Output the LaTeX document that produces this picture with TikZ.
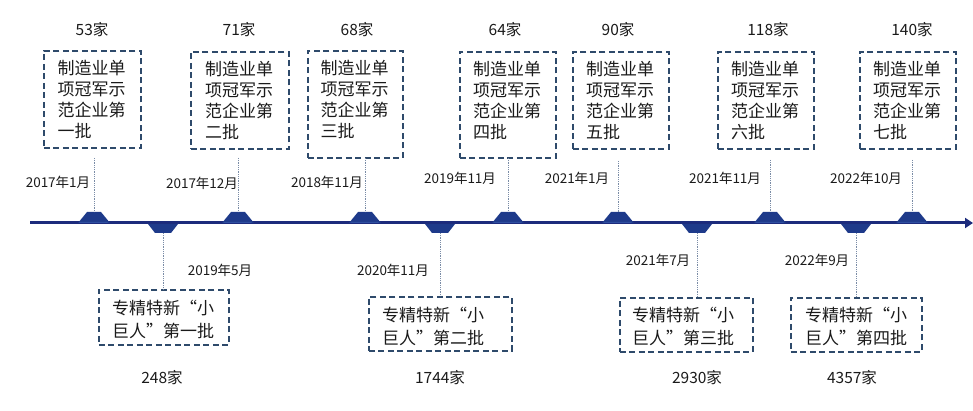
\documentclass[tikz,border=0pt]{standalone}
\usepackage{fontspec}
\setmainfont{Noto Sans CJK SC}
\usetikzlibrary{arrows.meta,calc}
\definecolor{navy}{HTML}{1C2B7C}
\definecolor{mk}{HTML}{1E3A8A}
\definecolor{mkl}{HTML}{2F4FA0}
\definecolor{bx}{HTML}{2E4A6B}
\definecolor{dl}{HTML}{7A8CA6}
\definecolor{tx}{HTML}{1A1A1A}
\begin{document}
\begin{tikzpicture}[x=1pt,y=-1pt,
  dbox/.style={draw=bx, line width=1.6pt, dash pattern=on 6pt off 3.5pt, inner sep=0pt, anchor=north west},
  utext/.style={text=tx, font=\fontsize{17}{21}\selectfont, align=left, text width=68pt, inner sep=0pt, anchor=north},
  ltext/.style={text=tx, font=\fontsize{17}{23}\selectfont, align=left, inner sep=0pt, anchor=north west},
  datel/.style={text=tx, font=\fontsize{13.5}{15}\selectfont, inner sep=0pt},
  numl/.style={text=tx, font=\fontsize{15.5}{17}\selectfont, inner sep=0pt},
  dotl/.style={draw=dl, line width=0.6pt, dash pattern=on 0.8pt off 1pt},
  upmark/.pic={\fill[mk] (-16,11) -- (-7,0) -- (7,0) -- (16,11) -- cycle;
               \fill[mkl] (-14,10) -- (13,10) -- (14,11) -- (-15,11) -- cycle;},
  lowmark/.pic={\fill[mk] (-15,0) -- (-8,9) -- (8,9) -- (15,0) -- cycle;}
]
\useasboundingbox (0,0) rectangle (973,411);

% timeline
\coordinate (tl0) at (30,223);
\coordinate (tl1) at (973,223);
\draw[navy, line width=3pt, -{Triangle[length=8pt,width=10pt]}] (tl0) -- (tl1);

% marker coordinates
\coordinate (m1) at (94,212);
\coordinate (m2) at (238,212);
\coordinate (m3) at (365,212);
\coordinate (m4) at (508,212);
\coordinate (m5) at (618,212);
\coordinate (m6) at (770,212);
\coordinate (m7) at (912,212);
\coordinate (l1) at (163,224);
\coordinate (l2) at (440,224);
\coordinate (l3) at (697,224);
\coordinate (l4) at (856,224);

\foreach \m in {m1,m2,m3,m4,m5,m6,m7} {\pic at (\m) {upmark};}
\foreach \m in {l1,l2,l3,l4} {\pic at (\m) {lowmark};}

% upper boxes
\node[dbox, minimum width=97pt, minimum height=97pt] (ub1) at (43,50) {};
\node[dbox, minimum width=98pt, minimum height=97pt] (ub2) at (190,51) {};
\node[dbox, minimum width=95pt, minimum height=107pt] (ub3) at (307,50) {};
\node[dbox, minimum width=96pt, minimum height=106pt] (ub4) at (459,51) {};
\node[dbox, minimum width=96pt, minimum height=97pt] (ub5) at (572,51) {};
\node[dbox, minimum width=96pt, minimum height=97pt] (ub6) at (717,51) {};
\node[dbox, minimum width=96pt, minimum height=97pt] (ub7) at (859,51) {};

\node[utext] (ut1) at (91.5,60.5) {制造业单\\项冠军示\\范企业第\\一批};
\node[utext] (ut2) at (239,61) {制造业单\\项冠军示\\范企业第\\二批};
\node[utext] (ut3) at (354.5,60.5) {制造业单\\项冠军示\\范企业第\\三批};
\node[utext] (ut4) at (507,61) {制造业单\\项冠军示\\范企业第\\四批};
\node[utext] (ut5) at (620,61) {制造业单\\项冠军示\\范企业第\\五批};
\node[utext] (ut6) at (765,61) {制造业单\\项冠军示\\范企业第\\六批};
\node[utext] (ut7) at (907,61) {制造业单\\项冠军示\\范企业第\\七批};

% upper counts
\node[numl] (n1) at (92,30) {53家};
\node[numl] (n2) at (239,30) {71家};
\node[numl] (n3) at (357,30) {68家};
\node[numl] (n4) at (505,30) {64家};
\node[numl] (n5) at (618,30) {90家};
\node[numl] (n6) at (768,30) {118家};
\node[numl] (n7) at (912,30) {140家};

% upper dates
\node[datel] (d1) at (58,182) {2017年1月};
\node[datel] (d2) at (202,183) {2017年12月};
\node[datel] (d3) at (327,182) {2018年11月};
\node[datel] (d4) at (460,178) {2019年11月};
\node[datel] (d5) at (577,178) {2021年1月};
\node[datel] (d6) at (725,178) {2021年11月};
\node[datel] (d7) at (866,178) {2022年10月};

% upper dotted connectors
\coordinate (c1) at (94,158);
\coordinate (c2) at (238,158);
\coordinate (c3) at (365,158);
\coordinate (c4) at (508,158);
\coordinate (c5) at (618,161);
\coordinate (c6) at (770,160);
\coordinate (c7) at (912,160);
\foreach \i in {1,...,7} {\draw[dotl] (c\i) -- (m\i);}

% lower boxes
\node[dbox, minimum width=130pt, minimum height=55pt] (lb1) at (98,289) {};
\node[dbox, minimum width=143pt, minimum height=54pt] (lb2) at (368,296) {};
\node[dbox, minimum width=133pt, minimum height=54pt] (lb3) at (619,297) {};
\node[dbox, minimum width=131pt, minimum height=54pt] (lb4) at (790,297) {};

\node[ltext] (lt1) at (112,299.5) {专精特新“小\\巨人”第一批};
\node[ltext] (lt2) at (382,306.5) {专精特新“小\\巨人”第二批};
\node[ltext] (lt3) at (632,306.5) {专精特新“小\\巨人”第三批};
\node[ltext] (lt4) at (805,306.5) {专精特新“小\\巨人”第四批};

% lower dotted connectors
\draw[dotl] ($(l1)+(0,9)$) -- (l1 |- lb1.north);
\draw[dotl] ($(l2)+(0,9)$) -- (l2 |- lb2.north);
\draw[dotl] ($(l3)+(0,9)$) -- (l3 |- lb3.north);
\draw[dotl] ($(l4)+(0,9)$) -- (l4 |- lb4.north);

% lower dates
\node[datel] (e1) at (220,270) {2019年5月};
\node[datel] (e2) at (393,270) {2020年11月};
\node[datel] (e3) at (658,260) {2021年7月};
\node[datel] (e4) at (817,260) {2022年9月};

% lower counts
\node[numl] (k1) at (162,378) {248家};
\node[numl] (k2) at (440,378) {1744家};
\node[numl] (k3) at (697,378) {2930家};
\node[numl] (k4) at (852,378) {4357家};
\end{tikzpicture}
\end{document}
